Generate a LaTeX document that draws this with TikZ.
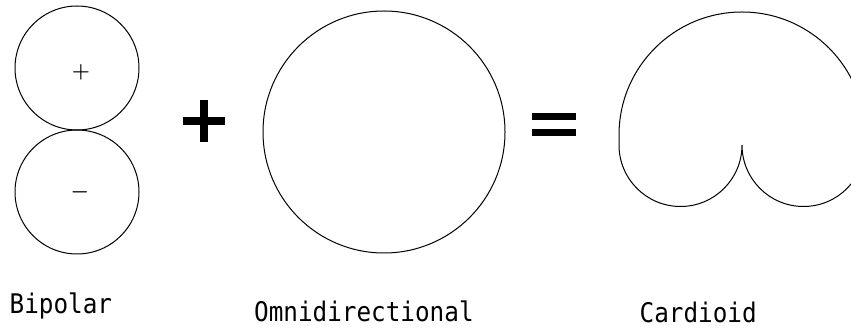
\documentclass[tikz,border=0pt]{standalone}
\usepackage{fontspec}
\newfontfamily\labelfont{DejaVu Sans Mono}
\begin{document}
\begin{tikzpicture}[x=1pt,y=1pt,
  pattern line/.style={draw=black, line width=1pt},
  opsign/.style={draw=black, line width=8pt},
  eqsign/.style={draw=black, line width=7pt},
  caption/.style={anchor=base west, inner sep=0pt, font=\labelfont\fontsize{27}{31}\selectfont},
  polarity/.style={inner sep=0pt, font=\fontsize{20}{24}\selectfont\boldmath}]
\useasboundingbox (0,0) rectangle (851,-328);
\clip (0,0) rectangle (851,-328);
% Bipolar
\node[pattern line, circle, minimum size=124pt, inner sep=0pt] (top) at (77,-68) {};
\node[pattern line, circle, minimum size=124pt, inner sep=0pt] (bot) at (77,-192) {};
\node[polarity] (plus) at (81,-72) {$+$};
\node[polarity] (minus) at (80,-192) {$-$};
% plus operator
\coordinate (pl) at (183,-121); \coordinate (pr) at (225,-121);
\coordinate (pt) at (204,-100); \coordinate (pb) at (204,-142);
\draw[opsign] (pl) -- (pr);
\draw[opsign] (pt) -- (pb);
% Omnidirectional
\node[pattern line, circle, minimum size=242pt, inner sep=0pt] (omni) at (384,-132) {};
% equals
\coordinate (e1l) at (532,-116.5); \coordinate (e1r) at (576,-116.5);
\coordinate (e2l) at (532,-132.5); \coordinate (e2r) at (576,-132.5);
\draw[eqsign] (e1l) -- (e1r);
\draw[eqsign] (e2l) -- (e2r);
% Cardioid
\coordinate (cusp) at (742,-145);
\draw[pattern line] (cusp) arc[start angle=0, end angle=-180, radius=61.5]
  -- (619,-135) arc[start angle=180, end angle=0, radius=123]
  -- (865,-145) arc[start angle=0, end angle=-180, radius=61.5] -- cycle;
% labels
\node[caption] (lb) at (9.5,-314) {\scalebox{0.9}[1]{Bipolar}};
\node[caption] (lo) at (254,-322) {\scalebox{0.9}[1]{Omnidirectional}};
\node[caption] (lc) at (639.5,-323) {\scalebox{0.9}[1]{Cardioid}};
\end{tikzpicture}
\end{document}
